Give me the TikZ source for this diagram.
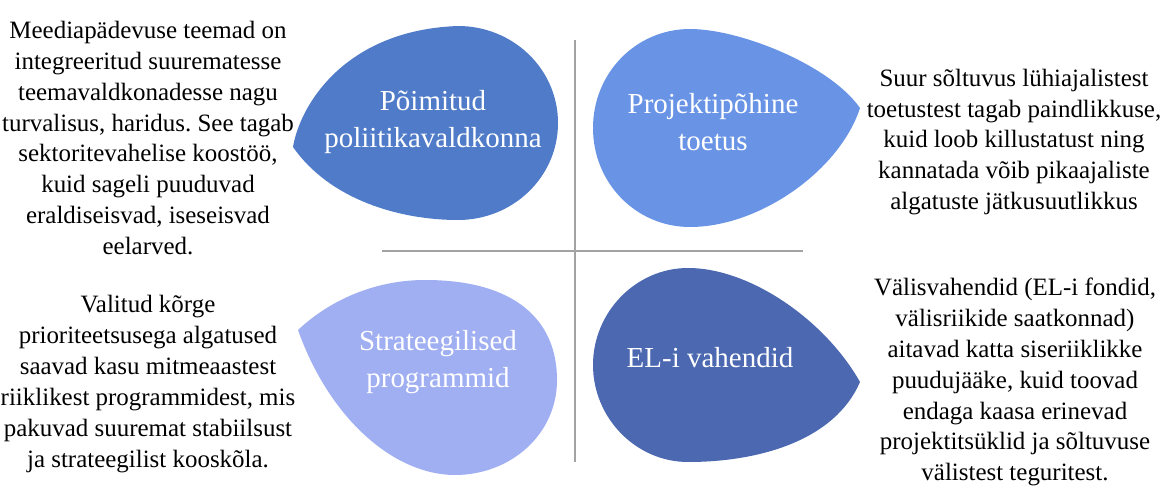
\documentclass[tikz,border=0pt]{standalone}
\usepackage{fontspec}
\setmainfont{Liberation Serif}
\usepackage{tikz}
\frenchspacing

\definecolor{dropA}{HTML}{4F7BC9}
\definecolor{dropB}{HTML}{6994E6}
\definecolor{dropC}{HTML}{A0AEF2}
\definecolor{dropD}{HTML}{4B68B1}
\definecolor{crossgray}{HTML}{A3A3A3}

\tikzset{
  sidetext/.style={align=center, font=\fontsize{14.2}{17.6}\selectfont, inner sep=0pt},
  droplabel/.style={align=center, text=white, font=\fontsize{16.5}{21.5}\selectfont, inner sep=0pt},
}

\begin{document}
\begin{tikzpicture}[x=0.02cm, y=-0.02cm]

% page frame, in pixels of the reference
\useasboundingbox (0,0) rectangle (1163,489);

% Draw the cross
\coordinate (vtop) at (575,40);
\coordinate (vbot) at (575,462);
\coordinate (hleft) at (382,251);
\coordinate (hright) at (803,251);
\draw[crossgray, line width=1.1pt] (vtop) -- (vbot);
\draw[crossgray, line width=1.1pt] (hleft) -- (hright);

% Draw the four drops
\fill[dropA] (293,147) .. controls (300,105) and (345,30) .. (458,26)
  .. controls (513,26) and (558,69) .. (558,123)
  .. controls (558,177) and (513,220) .. (458,220)
  .. controls (400,220) and (330,200) .. (293,147) -- cycle;
\fill[dropB] (860,108) .. controls (840,170) and (760,227) .. (690,227)
  .. controls (636,227) and (593,183) .. (593,128)
  .. controls (593,73) and (636,29) .. (690,29)
  .. controls (740,29) and (830,65) .. (860,108) -- cycle;
\fill[dropC] (298,330) .. controls (330,300) and (375,280) .. (425,280)
  .. controls (515,280) and (557,320) .. (557,380)
  .. controls (557,435) and (510,475) .. (455,475)
  .. controls (395,475) and (330,420) .. (298,330) -- cycle;
\fill[dropD] (688,268) .. controls (750,268) and (825,320) .. (860,382)
  .. controls (835,440) and (760,462) .. (688,462)
  .. controls (636,462) and (593,418) .. (593,365)
  .. controls (593,312) and (636,268) .. (688,268) -- cycle;

% labels inside the drops
\node[droplabel] (poimitud) at (433,122) {Põimitud\\poliitikavaldkonna};
\node[droplabel] (projekt) at (713,122) {Projektipõhine\\toetus};
\node[droplabel] (strat) at (438,362) {Strateegilised\\programmid};
\node[droplabel] (elvahend) at (710,358) {EL-i vahendid};

% side texts
\node[sidetext] (tltext) at (148,138) {Meediapädevuse teemad on\\integreeritud suurematesse\\teemavaldkonadesse nagu\\turvalisus, haridus. See tagab\\sektoritevahelise koostöö,\\kuid sageli puuduvad\\eraldiseisvad, iseseisvad\\eelarved.};
\node[sidetext] (trtext) at (1014,142) {Suur sõltuvus lühiajalistest\\toetustest tagab paindlikkuse,\\kuid loob killustatust ning\\kannatada võib pikaajaliste\\algatuste jätkusuutlikkus};
\node[sidetext] (bltext) at (148,384) {Valitud kõrge\\prioriteetsusega algatused\\saavad kasu mitmeaastest\\riiklikest programmidest, mis\\pakuvad suuremat stabiilsust\\ja strateegilist kooskõla.};
\node[sidetext] (brtext) at (1015,382) {Välisvahendid (EL-i fondid,\\välisriikide saatkonnad)\\aitavad katta siseriiklikke\\puudujääke, kuid toovad\\endaga kaasa erinevad\\projektitsüklid ja sõltuvuse\\välistest teguritest.};

\end{tikzpicture}
\end{document}
